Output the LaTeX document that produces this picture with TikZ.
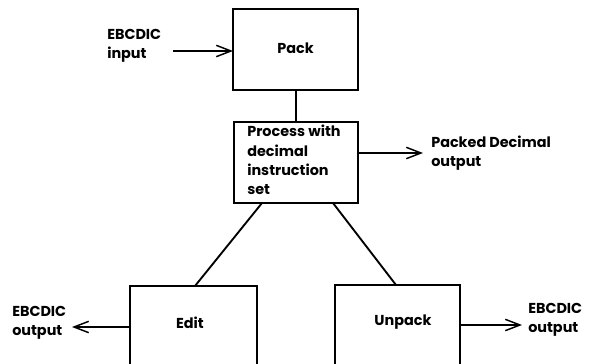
\documentclass[tikz,border=0pt]{standalone}
\usepackage{fontspec}
\setmainfont{Poppins}
\usetikzlibrary{arrows.meta}
\begin{document}
\begin{tikzpicture}[x=0.75pt,y=-0.75pt,
  box/.style={draw,line width=1.4pt},
  conn/.style={line width=1.4pt},
  arr/.style={line width=1.4pt,-{Straight Barb[length=11pt,width=8.5pt,line width=1.1pt]}},
  lbl/.style={font=\fontsize{10.8}{14.5}\selectfont\bfseries,align=left,inner sep=0pt},
  btxt/.style={font=\fontsize{10.8}{14.5}\selectfont\bfseries,inner sep=0pt}]
\useasboundingbox (0,0) rectangle (593,364);
\clip (0,0) rectangle (593,364);
% boxes
\draw[box] (233,9) rectangle (358,90);
\node[btxt] (pack) at (295.5,48) {Pack};
\coordinate (packb) at (296,90);
\draw[box] (234,122) rectangle (358,203);
\coordinate (proct) at (296,122);
\node[lbl,anchor=north west] (proc) at (247,125) {Process with\\decimal\\instruction\\set};
\coordinate (procr) at (358,153);
\coordinate (procbl) at (262,203);
\coordinate (procbr) at (333,203);
\draw[box] (130,400) -- (130,286) -- (257,286) -- (257,400);
\node[btxt] (edit) at (190,323) {Edit};
\coordinate (editt) at (195,286);
\coordinate (editl) at (130,327);
\draw[box] (335,400) -- (335,285) -- (460,285) -- (460,400);
\node[btxt] (unpack) at (403,322) {Unpack};
\coordinate (unpt) at (396,285);
\coordinate (unpr) at (460,325);
% labels
\node[lbl,anchor=west] (in) at (107,46) {EBCDIC\\input};
\node[lbl,anchor=west] (pdo) at (431,153) {Packed Decimal\\output};
\node[lbl,anchor=west] (lo) at (12,323) {EBCDIC\\output};
\node[lbl,anchor=west] (ro) at (528,320) {EBCDIC\\output};
\coordinate (inend) at (173,51);
\coordinate (packl) at (233,51);
\coordinate (pdoend) at (423,153);
\coordinate (loend) at (72,327);
\coordinate (roend) at (522,325);
% connectors
\draw[conn] (packb) -- (proct);
\draw[conn] (procbl) -- (editt);
\draw[conn] (procbr) -- (unpt);
\draw[arr] (inend) -- (packl);
\draw[arr] (procr) -- (pdoend);
\draw[arr] (editl) -- (loend);
\draw[arr] (unpr) -- (roend);
\end{tikzpicture}
\end{document}
